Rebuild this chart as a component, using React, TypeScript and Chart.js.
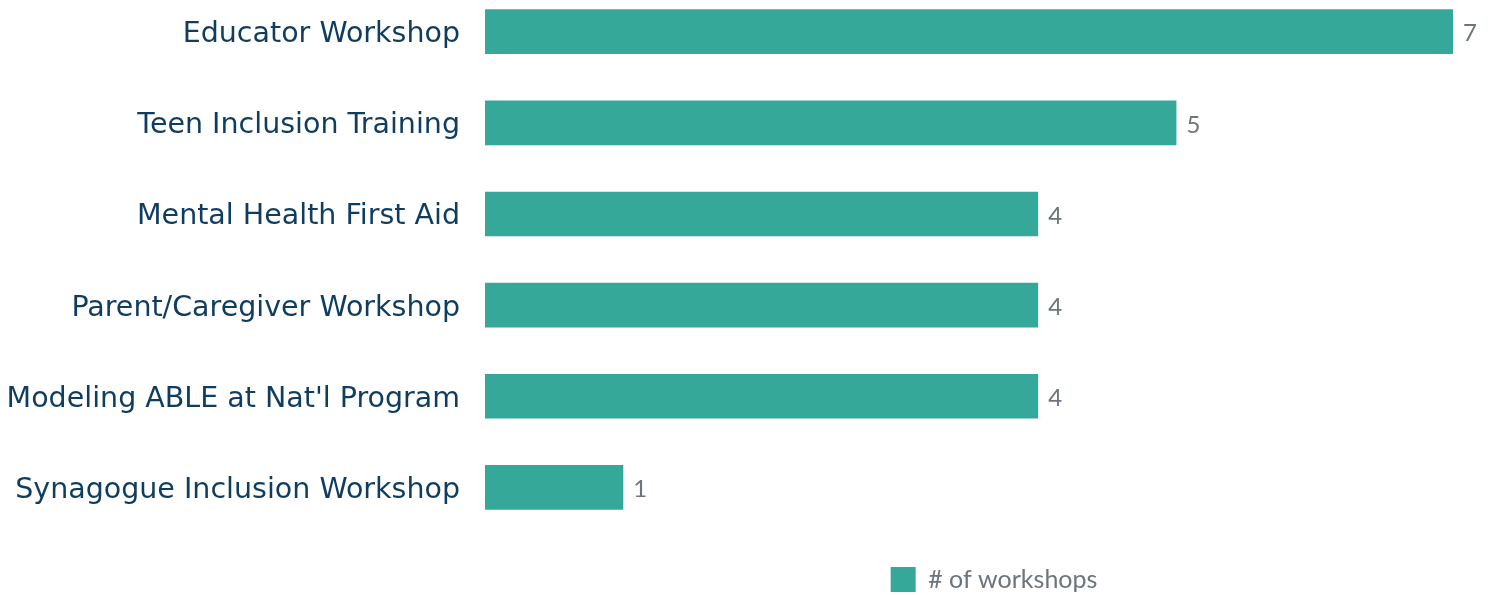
import React, { useEffect, useRef } from "react";
import { Chart, registerables } from "chart.js";

Chart.register(...registerables);

const categories = [
  "Educator Workshop",
  "Teen Inclusion Training",
  "Mental Health First Aid",
  "Parent/Caregiver Workshop",
  "Modeling ABLE at Nat'l Program",
  "Synagogue Inclusion Workshop",
];
const workshopCounts = [7, 5, 4, 4, 4, 1];
const seriesLabel = "# of workshops";

const BAR_COLOR = "#36a899";
const LABEL_COLOR = "#0f3d5f";
const VALUE_COLOR = "#6c747e";
const OFFSET = 48;
const W = 1490;
const H = 595 + OFFSET;

const valueLabels = {
  id: "valueLabels",
  afterDatasetsDraw(chart: any) {
    const ctx = chart.ctx;
    const meta = chart.getDatasetMeta(0);
    const data = chart.data.datasets[0].data;
    ctx.save();
    ctx.fillStyle = VALUE_COLOR;
    ctx.font = "24px Lato";
    ctx.textAlign = "left";
    ctx.textBaseline = "middle";
    meta.data.forEach((bar: any, i: number) => {
      ctx.fillText(String(data[i]), bar.x + 10, bar.y + 2);
    });
    ctx.restore();
  },
};

const legendShift = {
  id: "legendShift",
  afterLayout(chart: any) {
    const lg = chart.legend;
    if (lg) {
      lg.left += 25;
      lg.right += 25;
      lg.top += 24;
      lg.bottom += 24;
    }
  },
};

export default function App() {
  const ref = useRef<HTMLCanvasElement | null>(null);
  useEffect(() => {
    document.body.style.margin = "0";
    const chart = new Chart(ref.current as HTMLCanvasElement, {
      type: "bar",
      data: {
        labels: categories,
        datasets: [
          {
            label: seriesLabel,
            data: workshopCounts,
            backgroundColor: BAR_COLOR,
            borderWidth: 0,
            barPercentage: 1,
            categoryPercentage: 0.49,
          },
        ],
      },
      options: {
        indexAxis: "y",
        responsive: false,
        animation: false,
        layout: { padding: { top: 15, right: 37, bottom: 17, left: 0 } },
        scales: {
          x: { display: false, min: 0, max: 7 },
          y: {
            grid: { display: false },
            border: { display: false },
            ticks: {
              color: LABEL_COLOR,
              font: { family: "'DejaVu Sans'", size: 28.5 },
              padding: 17,
              labelOffset: 3,
            },
            afterFit(scale: any) {
              scale.width = 485;
            },
          },
        },
        plugins: {
          tooltip: { enabled: false },
          legend: {
            position: "bottom",
            fullSize: false,
            labels: {
              color: VALUE_COLOR,
              font: { family: "Lato", size: 25 },
              boxWidth: 25,
              boxHeight: 25,
              padding: 10,
            },
          },
        },
      },
      plugins: [valueLabels, legendShift],
    });
    return () => chart.destroy();
  }, []);
  return (
    <div style={{ position: "relative", width: W, height: 595, overflow: "hidden" }}>
      <canvas
        ref={ref}
        width={W}
        height={H}
        style={{ position: "absolute", left: 0, top: -OFFSET, width: W, height: H }}
      />
    </div>
  );
}
